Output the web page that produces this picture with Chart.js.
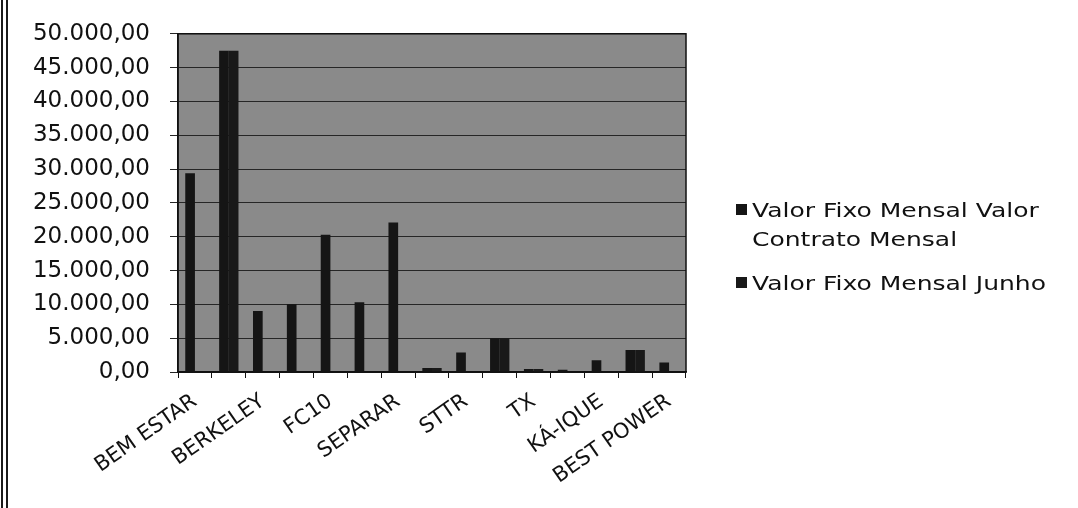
<!DOCTYPE html>
<html>
<head>
<meta charset="utf-8">
<script src="https://cdn.jsdelivr.net/npm/chart.js@4/dist/chart.umd.min.js"></script>
<style>
  body { margin: 0; background: #fff; }
  #wrap { position: relative; width: 1078px; height: 508px; overflow: hidden; }
  #edge { position: absolute; left: 1px; top: 0; width: 0; height: 508px; border-left: 7px double #1a1a1a; }
  #legend { position: absolute; left: 736px; top: 196px; font-family: "DejaVu Sans", sans-serif; font-size: 20px; color: #111; }
  .item { position: relative; padding-left: 16px; line-height: 29px; margin-bottom: 15px; }
  .item .box { position: absolute; left: 0; top: 8px; width: 11px; height: 11px; }
  .item .txt { display: inline-block; transform: scaleX(1.25); transform-origin: left; white-space: nowrap; }
</style>
</head>
<body>
<div id="wrap">
  <canvas id="barChart" width="1078" height="508"></canvas>
  <div id="edge"></div>
  <div id="legend"></div>
</div>
<script>
// categories (only every other name is printed on the axis)
var categories = ["BEM ESTAR", "", "BERKELEY", "", "FC10", "", "SEPARAR", "",
  "STTR", "", "TX", "", "KÁ-IQUE", "", "BEST POWER"];
var series_names = ["Valor Fixo Mensal Valor Contrato Mensal", "Valor Fixo Mensal Junho"];
var contrato_mensal = [29400, 47500, 9000, 10000, 20300, 10300, 22100, 600, 2900, 5000, 450, 350, 1750, 3250, 1400];
var junho = [0, 47500, 0, 0, 0, 0, 0, 600, 0, 5000, 450, 0, 0, 3250, 0];
var bar_colors = ["#151515", "#191919"];

function format_br(value) {
  var parts = Number(value).toFixed(2).split(".");
  var int_part = parts[0].replace(/\B(?=(\d{3})+(?!\d))/g, ".");
  return int_part + "," + parts[1];
}

// grey plot background with a frame, like the old spreadsheet chart
const plot_bg = {
  id: "plot_bg",
  beforeDraw(chart) {
    const { ctx, chartArea: a } = chart;
    ctx.save();
    ctx.fillStyle = "#8a8a8a";
    ctx.fillRect(a.left, a.top, a.right - a.left, a.bottom - a.top);
    ctx.restore();
  },
  beforeDatasetsDraw(chart) {
    const { ctx, chartArea: a } = chart;
    ctx.save();
    ctx.strokeStyle = "#111";
    ctx.lineWidth = 1.5;
    ctx.strokeRect(a.left, a.top, a.right - a.left, a.bottom - a.top);
    ctx.restore();
  },
};

function build_legend() {
  var legend = document.getElementById("legend");
  for (let i = 0; i < series_names.length; i++) {
    var item = document.createElement("div");
    item.className = "item";
    var text = series_names[i];
    if (i == 0) {
      text = "Valor Fixo Mensal Valor<br>Contrato Mensal";
    }
    item.innerHTML = '<span class="box" style="background:' + bar_colors[i] + '"></span><span class="txt">' + text + "</span>";
    legend.appendChild(item);
  }
}

function init_chart() {
  Chart.defaults.font.family = '"DejaVu Sans", sans-serif';
  Chart.defaults.color = "#111";
  var ctx = document.getElementById("barChart").getContext("2d");
  new Chart(ctx, {
    type: "bar",
    data: {
      labels: categories,
      datasets: [
        { label: series_names[0], data: contrato_mensal, backgroundColor: bar_colors[0] },
        { label: series_names[1], data: junho, backgroundColor: bar_colors[1] },
      ],
    },
    options: {
      responsive: false,
      animation: false,
      categoryPercentage: 0.571,
      barPercentage: 1.0,
      layout: { padding: { top: 33, right: 392, bottom: 0, left: 0 } },
      plugins: { legend: { display: false }, tooltip: { enabled: false } },
      scales: {
        x: {
          grid: { drawOnChartArea: false, drawTicks: true, tickLength: 6, color: "#111" },
          border: { display: true, color: "#111", width: 1.5 },
          ticks: {
            autoSkip: false,
            minRotation: 35,
            maxRotation: 35,
            padding: 11,
            font: { size: 21 },
          },
          afterFit: function (scale) { scale.height = 136; },
        },
        y: {
          min: 0,
          max: 50000,
          ticks: {
            stepSize: 5000,
            padding: 20,
            font: { size: 23 },
            callback: function (value) { return format_br(value); },
          },
          grid: { color: "#262626", lineWidth: 1, tickLength: 8 },
          border: { display: true, color: "#111", width: 1.5 },
          afterFit: function (scale) { scale.width = 178; },
        },
      },
    },
    plugins: [plot_bg],
  });
  build_legend();
}

window.addEventListener("DOMContentLoaded", init_chart);
</script>
</body>
</html>
